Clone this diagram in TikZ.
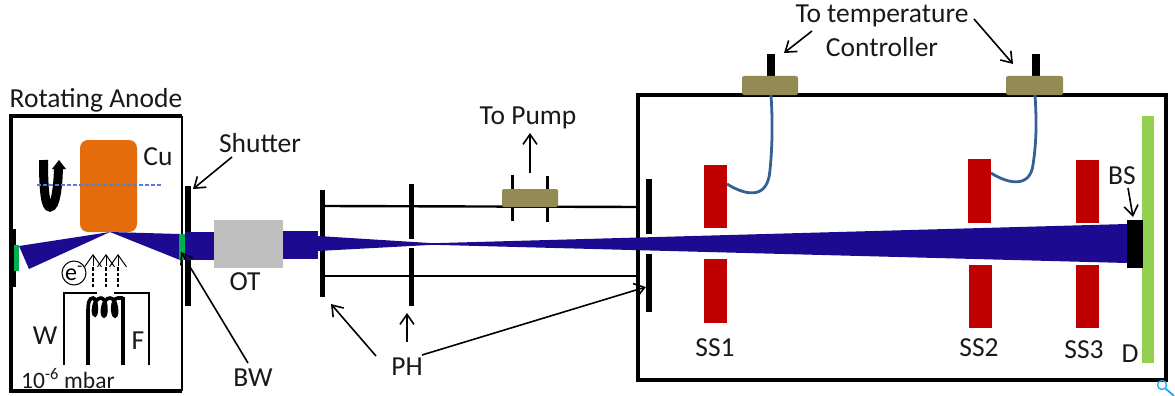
\documentclass[tikz,border=0pt]{standalone}
\usepackage{fontspec}
\setmainfont{Carlito}
\usetikzlibrary{arrows.meta}
\definecolor{beam}{HTML}{1C0A90}
\definecolor{cuorange}{HTML}{E46C0A}
\definecolor{olive}{HTML}{948A54}
\definecolor{ssred}{HTML}{C00000}
\definecolor{winG}{HTML}{00B050}
\definecolor{detG}{HTML}{92D050}
\definecolor{wire}{HTML}{376092}
\definecolor{otgrey}{HTML}{BFBFBF}
\definecolor{axisblue}{HTML}{4F81D8}
\definecolor{iconblue}{HTML}{1CA8E8}
\newcommand{\rectnode}[6]{%
  \pgfmathsetmacro{\rcx}{(#3+#5)/2}\pgfmathsetmacro{\rcy}{(#4+#6)/2}%
  \pgfmathsetmacro{\rw}{abs(#5-#3)}\pgfmathsetmacro{\rh}{abs(#6-#4)}%
  \node[#1,minimum width=\rw pt,minimum height=\rh pt] (#2) at (\rcx,\rcy) {};}
\tikzset{
  solidbox/.style={rectangle,inner sep=0pt,outer sep=0pt},
  blackbar/.style={solidbox,fill=black},
  redbar/.style={solidbox,fill=ssred},
  oliveblock/.style={solidbox,fill=olive,rounded corners=2pt},
  lbl/.style={inner sep=0pt,font=\fontsize{27.5}{30}\selectfont,text=black!90},
  arr/.style={draw=black,line width=1.6pt,-{Straight Barb[length=10pt,width=14pt,line width=1.6pt]}},
  eline/.style={draw=black,line width=1.2pt,dash pattern=on 3.5pt off 2pt},
  ehead/.style={draw=black,line width=1pt,-{Straight Barb[length=12pt,width=17pt,line width=1pt]}},
  tube/.style={draw=black,line width=2.4pt},
  cable/.style={draw=wire,line width=2.8pt},
}
\begin{document}
\begin{tikzpicture}[x=1pt,y=-1pt]
\useasboundingbox (0,0) rectangle (1175,396);
% rotating anode housing
\draw[black,line width=3.2pt] (182,116) -- (11,116) -- (11,391) -- (182,391);
\draw[black,line width=1.8pt] (182,116) -- (182,391);
\rectnode{solidbox,fill=cuorange,rounded corners=8pt}{cu}{80}{140}{137}{232}
\rectnode{blackbar}{leftbar}{11}{229}{16}{287}
\rectnode{solidbox,fill=winG}{leftwin}{14}{245}{19}{271}
\fill[beam] (110,232) -- (19,246) -- (29,269) -- cycle;
\fill[beam] (110,232) -- (180,234) -- (180,260) -- cycle;
\rectnode{blackbar}{shutter}{185}{186}{191}{306}
\fill[beam] (185,232) rectangle (214,260);
\rectnode{solidbox,fill=winG}{bw}{179}{234}{185}{260}
\rectnode{solidbox,fill=otgrey}{ot}{214}{220}{283}{268}
\fill[beam] (283,231) rectangle (318,259);
% rotation arrow
\draw[black,line width=9pt] (43.5,160) .. controls (43.5,195) and (46,207) .. (50,207) .. controls (55,207) and (58,190) .. (58.5,167);
\fill[black] (52,169) -- (59,160) -- (66,169) -- cycle;
\draw[axisblue,line width=1.1pt,dash pattern=on 4pt off 2pt] (37,185) -- (162,185);
% electron gun
\node[draw=black,line width=1pt,circle,minimum size=24pt,inner sep=0pt,font=\fontsize{24}{26}\selectfont] (electron) at (74,273) {e\textsuperscript{-}};
\coordinate (b1s) at (93,287); \coordinate (b1h) at (93,266); \coordinate (b1e) at (93,254);
\coordinate (b2s) at (106,287); \coordinate (b2h) at (106,266); \coordinate (b2e) at (106,254);
\coordinate (b3s) at (118,287); \coordinate (b3h) at (118,266); \coordinate (b3e) at (118,254);
\draw[eline] (b1s) -- (b1h);
\draw[eline] (b2s) -- (b2h);
\draw[eline] (b3s) -- (b3h);
\draw[ehead] (b1h) -- (b1e);
\draw[ehead] (b2h) -- (b2e);
\draw[ehead] (b3h) -- (b3e);
\draw[black,line width=2pt] (97,293) -- (64,293) -- (64,365);
\draw[black,line width=2pt] (114,293) -- (149,293) -- (149,365);
\draw[black,line width=4.5pt] (88,310) -- (88,365);
\draw[black,line width=4pt] (123,297) -- (123,365);
\draw[black,line width=3.6pt] (88,312) .. controls (88,303) and (89,298) .. (93,298)
  .. controls (97,298) and (97,315) .. (95,315) .. controls (92,315) and (93,298) .. (101,298)
  .. controls (107,298) and (107,316) .. (104,316) .. controls (101,316) and (102,298) .. (110,298)
  .. controls (117,298) and (118,316) .. (115,316) .. controls (112,316) and (111,298) .. (118,298) -- (123,298);
% tubes
\draw[tube] (325,206) -- (638,207);
\draw[tube] (325,276) -- (638,276);
\rectnode{blackbar}{tick1}{510.5}{175}{513.5}{221}
\rectnode{blackbar}{tick2}{545.5}{176}{548.5}{222}
\rectnode{oliveblock}{valve}{502}{189}{558}{207}
% chamber
\draw[black,line width=3.4pt] (638,95) rectangle (1166,380);
\rectnode{blackbar}{pina}{767}{54}{775}{77}
\rectnode{blackbar}{pinb}{1032}{54}{1040}{77}
\rectnode{oliveblock}{ctrla}{742}{76}{798}{95}
\rectnode{oliveblock}{ctrlb}{1006}{76}{1063}{95}
% pinholes
\rectnode{blackbar}{pha}{319.5}{190}{325}{297}
\rectnode{blackbar}{phbu}{408.5}{184}{413.5}{239}
\rectnode{blackbar}{phbl}{408.5}{248}{413.5}{306}
\rectnode{blackbar}{phcu}{646}{179}{652}{234}
\rectnode{blackbar}{phcl}{646}{254}{652}{312}
% slits
\rectnode{redbar}{ssau}{704}{165}{727}{228}
\rectnode{redbar}{ssal}{704}{259}{727}{323}
\rectnode{redbar}{ssbu}{968}{159}{991}{223}
\rectnode{redbar}{ssbl}{969}{265}{992}{328}
\rectnode{redbar}{sscu}{1076}{160}{1099}{223}
\rectnode{redbar}{sscl}{1076}{265}{1099}{328}
% main beam
\fill[beam] (318,236) -- (433,243.2) -- (1127,224) -- (1127,263) -- (433,244.8) -- (318,251) -- cycle;
\rectnode{solidbox,fill=detG}{det}{1142}{116}{1154}{363}
\rectnode{blackbar}{bstop}{1127}{220}{1143}{268}
% cables
\coordinate (wa) at (727,184);
\coordinate (wb) at (991,173);
\draw[cable] (771,95) .. controls (773,125) and (772,150) .. (770,170) .. controls (768,197) and (750,198) .. (wa);
\draw[cable] (1035,95) .. controls (1037,125) and (1036,145) .. (1033,165) .. controls (1030,187) and (1010,185) .. (wb);
% labels
\node[lbl] (ttitle) at (96,100) {Rotating Anode};
\node[lbl] (culbl) at (158,157) {Cu};
\node[lbl] (wlbl) at (45,336) {W};
\node[lbl] (flbl) at (138,341) {F};
\node[lbl,font=\fontsize{23.5}{26}\selectfont] (vac) at (68,379) {10\textsuperscript{-6} mbar};
\node[lbl] (shutlbl) at (260,143) {Shutter};
\node[lbl] (otlbl) at (245,282) {OT};
\node[lbl] (bwlbl) at (253,378) {BW};
\node[lbl] (phlbl) at (407,367) {PH};
\node[lbl] (pumplbl) at (528,118) {To Pump};
\node[lbl] (templbl) at (882,16) {To temperature};
\node[lbl] (ctrllbl) at (882,47) {Controller};
\node[lbl] (ss1) at (715,348) {SS1};
\node[lbl] (ss2) at (979,348) {SS2};
\node[lbl] (ss3) at (1084,350) {SS3};
\node[lbl] (dlbl) at (1130,354) {D};
\node[lbl] (bslbl) at (1122,176) {BS};
% arrows
\coordinate (s1) at (232,157); \coordinate (s2) at (193,189);
\coordinate (b1) at (248,363); \coordinate (b2) at (181,252);
\coordinate (p1) at (376,356); \coordinate (p2) at (331,304);
\coordinate (p3) at (407,342); \coordinate (p4) at (407,313);
\coordinate (p5) at (422,355); \coordinate (p6) at (646,287);
\coordinate (u1) at (530,173); \coordinate (u2) at (530,133);
\coordinate (t1) at (812,31); \coordinate (t2) at (784,53);
\coordinate (t3) at (974,19); \coordinate (t4) at (1013,64);
\coordinate (b3) at (1128,188); \coordinate (b4) at (1133,217);
\draw[arr] (s1) -- (s2);
\draw[arr] (b1) -- (b2);
\draw[arr] (p1) -- (p2);
\draw[arr] (p3) -- (p4);
\draw[arr] (p5) -- (p6);
\draw[arr] (u1) -- (u2);
\draw[arr] (t1) -- (t2);
\draw[arr] (t3) -- (t4);
\draw[arr] (b3) -- (b4);
% corner icon
\draw[iconblue,line width=1.3pt] (1162,385) circle (4.5);
\draw[iconblue,line width=1.8pt] (1165.5,388.5) -- (1174,396);
\end{tikzpicture}
\end{document}
